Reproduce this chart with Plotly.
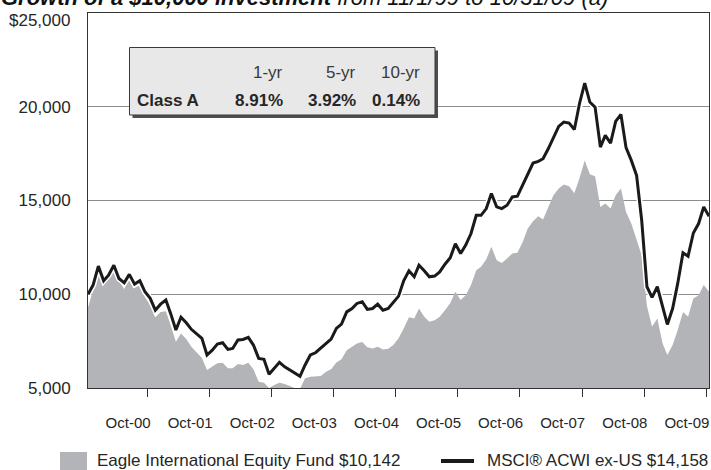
import plotly.graph_objects as go
import pandas as pd

# ---- data -------------------------------------------------------------
# month-end valuation dates, 10/31/99 .. 10/31/09
months = pd.date_range("1999-11-01", periods=121, freq="MS") - pd.Timedelta(days=1)

fund_values = [9300, 10220, 11390, 10700, 11020, 11500, 10750, 10270, 10910, 10330,
               10490, 9850, 9420, 8780, 9050, 9100, 8360, 7470, 7910, 7610,
               7200, 6920, 6600, 5960, 6130, 6320, 6350, 6050, 6050, 6280,
               6230, 6350, 6000, 5340, 5280, 5000, 5160, 5280, 5210, 5110,
               5000, 4950, 5520, 5600, 5610, 5640, 5870, 6000, 6360, 6530,
               7020, 7200, 7370, 7460, 7170, 7110, 7200, 7060, 7090, 7290,
               7650, 8180, 8770, 8710, 9240, 8800, 8530, 8620, 8800, 9150,
               9530, 10130, 9690, 9950, 10490, 11280, 11470, 11870, 12530, 11820,
               11670, 11910, 12170, 12210, 12790, 13510, 13890, 14160, 13990, 14660,
               15280, 15640, 15850, 15760, 15390, 16190, 17140, 16400, 16290, 14660,
               14840, 14570, 15280, 15640, 14390, 13770, 12970, 12080, 9370, 8270,
               8710, 7380, 6760, 7290, 8090, 9060, 8800, 9780, 9950, 10490, 10140]

msci_values = [10000, 10490, 11500, 10720, 11020, 11550, 10840, 10610, 11060, 10540,
               10720, 10130, 9780, 9150, 9470, 9690, 8980, 8090, 8770, 8480,
               8130, 7880, 7650, 6760, 7020, 7340, 7410, 7060, 7110, 7560,
               7590, 7700, 7290, 6580, 6530, 5730, 6050, 6370, 6130, 5960,
               5780, 5620, 6230, 6760, 6880, 7110, 7380, 7610, 8180, 8410,
               9060, 9240, 9510, 9600, 9190, 9240, 9470, 9150, 9240, 9540,
               9900, 10720, 11250, 10930, 11550, 11250, 10930, 10970, 11190, 11600,
               11950, 12690, 12170, 12620, 13240, 14210, 14210, 14570, 15370, 14660,
               14570, 14750, 15190, 15230, 15810, 16440, 17000, 17090, 17230, 17770,
               18350, 18950, 19180, 19130, 18790, 20160, 21260, 20250, 19980, 17850,
               18470, 18060, 19220, 19590, 17820, 17140, 16340, 13950, 10400, 9830,
               10400, 9330, 8390, 9240, 10580, 12210, 12030, 13270, 13770, 14660, 14160]

tick_dates = ["2000-10-15", "2001-10-15", "2002-10-15", "2003-10-15", "2004-10-15",
              "2005-10-15", "2006-10-15", "2007-10-15", "2008-10-15", "2009-10-15"]
tick_labels = ["Oct-00", "Oct-01", "Oct-02", "Oct-03", "Oct-04",
               "Oct-05", "Oct-06", "Oct-07", "Oct-08", "Oct-09"]
y_ticks = [5000, 10000, 15000, 20000, 25000]
y_tick_labels = ["5,000", "10,000", "15,000", "20,000", "$25,000"]

fund_name = "Eagle International Equity Fund $10,142"
index_name = "MSCI® ACWI ex-US $14,158"
periods = ["1-yr", "5-yr", "10-yr"]
class_label = "Class A"
class_returns = ["8.91%", "3.92%", "0.14%"]
title_bold = "Growth of a $10,000 investment"
title_rest = " from 11/1/99 to 10/31/09 (a)"

# ---- style ------------------------------------------------------------
FONT = "Liberation Sans, Arial, Helvetica, sans-serif"
TXT = "#262626"
AREA = "#b3b4b8"
W, H = 711, 470
ML, MR, MT, MB = 88, 2, 13, 82
PW, PH = W - ML - MR, H - MT - MB
LABEL_SHIFT = pd.Timedelta(days=114)   # labels sit left of their tick marks


def px(x):
    return (x - ML) / PW


def py(y):
    return (H - MB - y) / PH


label_pos = [pd.Timestamp(d) - LABEL_SHIFT for d in tick_dates]

fig = go.Figure()
fig.add_trace(go.Scatter(x=months, y=fund_values, mode="lines", fill="tozeroy",
                         fillcolor=AREA, line=dict(width=0, color=AREA),
                         name=fund_name, showlegend=False))
fig.add_trace(go.Scatter(x=months, y=msci_values, mode="lines", xaxis="x2",
                         line=dict(width=6, color="white"),
                         hoverinfo="skip", showlegend=False))
fig.add_trace(go.Scatter(x=months, y=msci_values, mode="lines", xaxis="x2",
                         line=dict(width=3, color="#1a1a1a"),
                         name=index_name, showlegend=False))

shapes = []
annotations = []

# stats box with shadow
shapes.append(dict(type="rect", xref="paper", yref="paper",
                   x0=px(132.5), x1=px(438), y0=py(118), y1=py(50.5),
                   fillcolor="#4d4d4d", line=dict(width=0)))
shapes.append(dict(type="rect", xref="paper", yref="paper",
                   x0=px(129.5), x1=px(435), y0=py(115), y1=py(47.5),
                   fillcolor="#e8e8e9", line=dict(width=1, color="#3a3a3a")))

col_right = [285, 358, 422]
for lab, xr in zip(periods, col_right):
    annotations.append(dict(text=lab, xref="paper", yref="paper", x=px(xr), y=py(72),
                            xanchor="right", yanchor="middle", showarrow=False,
                            font=dict(family=FONT, size=17, color="#3a3a3a")))
annotations.append(dict(text="<b>" + class_label + "</b>", xref="paper", yref="paper",
                        x=px(135), y=py(100), xanchor="left", yanchor="middle",
                        showarrow=False, font=dict(family=FONT, size=17, color=TXT)))
for val, xr in zip(class_returns, col_right):
    annotations.append(dict(text="<b>" + val + "</b>", xref="paper", yref="paper",
                            x=px(xr), y=py(100), xanchor="right", yanchor="middle",
                            showarrow=False, font=dict(family=FONT, size=17, color=TXT)))

# legend
shapes.append(dict(type="rect", xref="paper", yref="paper",
                   x0=px(60), x1=px(87), y0=py(471), y1=py(452),
                   fillcolor=AREA, line=dict(width=0)))
annotations.append(dict(text=fund_name, xref="paper", yref="paper", x=px(95), y=py(461),
                        xanchor="left", yanchor="middle", showarrow=False,
                        font=dict(family=FONT, size=17, color=TXT)))
shapes.append(dict(type="line", xref="paper", yref="paper",
                   x0=px(441), x1=px(474), y0=py(461), y1=py(461),
                   line=dict(width=4, color="#1a1a1a")))
annotations.append(dict(text=index_name, xref="paper", yref="paper", x=px(485), y=py(461),
                        xanchor="left", yanchor="middle", showarrow=False,
                        font=dict(family=FONT, size=17, color=TXT)))

# top y label sits a little below the frame corner, as in the original
annotations.append(dict(text=y_tick_labels[-1], xref="paper", yref="paper",
                        x=px(72), y=py(20), xanchor="right", yanchor="middle",
                        showarrow=False, font=dict(family=FONT, size=17, color=TXT)))

# clipped title at top
annotations.append(dict(text="<b><i>" + title_bold + "</i></b><i>" + title_rest + "</i>",
                        xref="paper", yref="paper", x=px(-1), y=py(-2),
                        xanchor="left", yanchor="middle", showarrow=False,
                        font=dict(family=FONT, size=22, color="#111")))

xrange = [months[0], months[-1]]
fig.update_layout(
    width=W, height=H,
    margin=dict(l=ML, r=MR, t=MT, b=MB, pad=0),
    paper_bgcolor="white", plot_bgcolor="white",
    font=dict(family=FONT, size=17, color=TXT),
    showlegend=False,
    shapes=shapes, annotations=annotations,
    xaxis=dict(type="date", range=xrange,
               tickvals=tick_dates, showticklabels=False,
               ticks="outside", ticklen=8, tickcolor="#333", tickwidth=1,
               showgrid=False, zeroline=False,
               showline=True, linecolor="#333", linewidth=1, mirror=True),
    xaxis2=dict(type="date", range=xrange, overlaying="x", side="bottom", anchor="y",
                tickvals=label_pos, ticktext=tick_labels, ticklabeloverflow="allow",
                tickfont=dict(family=FONT, size=15, color=TXT),
                ticks="outside", ticklen=21, tickcolor="rgba(0,0,0,0)",
                showgrid=False, zeroline=False, showline=False),
    yaxis=dict(range=[5000, 25000], tickvals=y_ticks[:-1], ticktext=y_tick_labels[:-1],
               tickfont=dict(family=FONT, size=17, color=TXT),
               ticks="outside", ticklen=13, tickcolor="rgba(0,0,0,0)",
               showgrid=True, gridcolor="#8c8c8c", gridwidth=1, zeroline=False,
               showline=True, linecolor="#333", linewidth=1, mirror=True),
)

fig.write_html("out.html", config={"displayModeBar": False},
               post_script="document.body.style.margin='0px';")
